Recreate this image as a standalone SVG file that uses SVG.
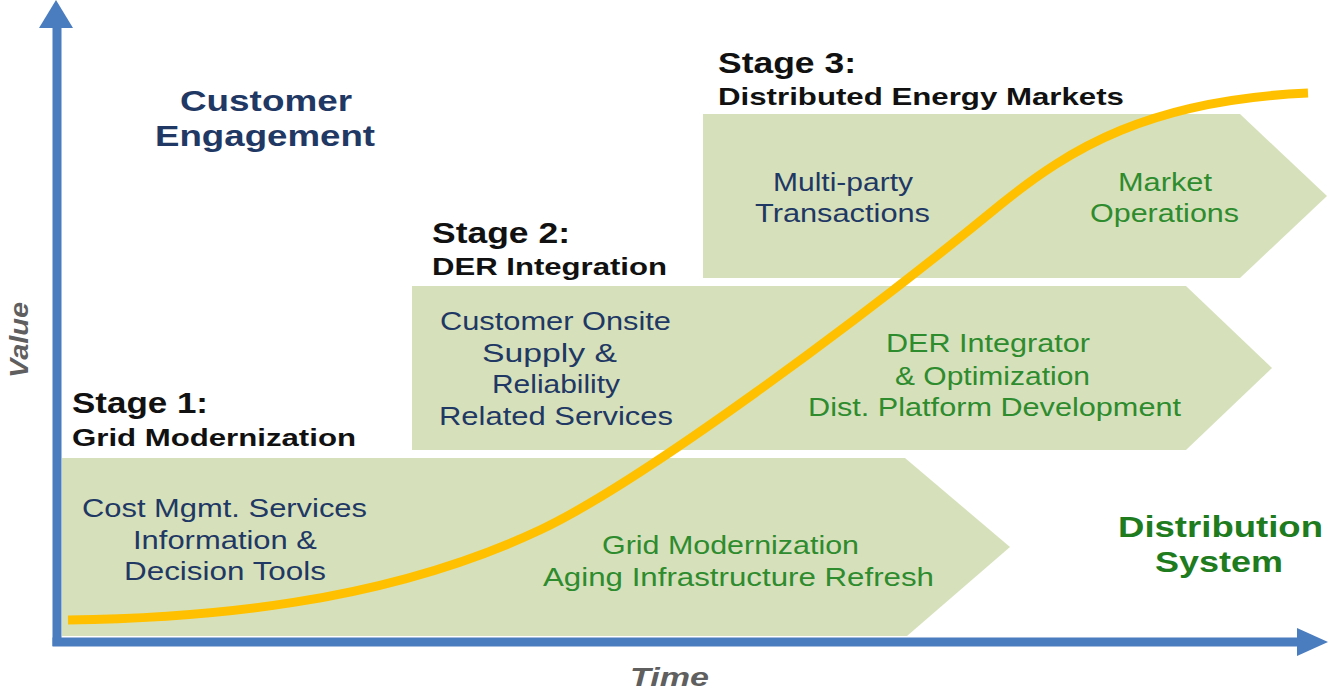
<svg xmlns="http://www.w3.org/2000/svg" width="1329" height="691" viewBox="0 0 1329 691">
  <style>
    .chev { fill: #d6e1bb; }
    .stage { font-family: "Liberation Sans", Arial, sans-serif; font-weight: bold; fill: #111111; }
    .navy { font-family: "Liberation Sans", Arial, sans-serif; fill: #1f3864; font-size: 26px; }
    .green { font-family: "Liberation Sans", Arial, sans-serif; fill: #2e8b2e; font-size: 26px; }
    .big { font-family: "Liberation Sans", Arial, sans-serif; font-weight: bold; font-size: 29px; }
    .axislbl { font-family: "Liberation Sans", Arial, sans-serif; font-weight: bold; font-style: italic; fill: #5f5f5f; font-size: 26px; }
    .axis { stroke: #4a7cc0; stroke-width: 9; fill: none; }
    .head { fill: #4a7cc0; }
    .curve { stroke: #ffc000; stroke-width: 9; fill: none; stroke-linecap: butt; }
  </style>
  <rect width="1329" height="691" fill="#ffffff"/>

  <g id="stage2">
    <polygon class="chev" points="412,286 1186,286 1272,368 1186,450 412,450"/>
    <text class="stage" font-size="29" x="432" y="243" textLength="138" lengthAdjust="spacingAndGlyphs">Stage 2:</text>
    <text class="stage" font-size="24" x="432" y="275" textLength="235" lengthAdjust="spacingAndGlyphs">DER Integration</text>
    <text class="navy" x="440" y="330" textLength="231" lengthAdjust="spacingAndGlyphs">Customer Onsite</text>
    <text class="navy" x="482" y="362" textLength="135" lengthAdjust="spacingAndGlyphs">Supply  &amp;</text>
    <text class="navy" x="492" y="393" textLength="128" lengthAdjust="spacingAndGlyphs">Reliability</text>
    <text class="navy" x="439" y="425" textLength="234" lengthAdjust="spacingAndGlyphs">Related Services</text>
    <text class="green" x="886" y="352" textLength="204" lengthAdjust="spacingAndGlyphs">DER Integrator</text>
    <text class="green" x="895" y="385" textLength="195" lengthAdjust="spacingAndGlyphs">&amp; Optimization</text>
    <text class="green" x="808" y="416" textLength="373" lengthAdjust="spacingAndGlyphs">Dist. Platform Development</text>
  </g>

  <g id="stage1">
    <polygon class="chev" points="62,458 905,458 1010,547 907,636 62,636"/>
    <text class="stage" font-size="29" x="72" y="413" textLength="136" lengthAdjust="spacingAndGlyphs">Stage 1:</text>
    <text class="stage" font-size="24" x="72" y="446" textLength="284" lengthAdjust="spacingAndGlyphs">Grid Modernization</text>
    <text class="navy" x="82" y="517" textLength="285" lengthAdjust="spacingAndGlyphs">Cost Mgmt.  Services</text>
    <text class="navy" x="133" y="549" textLength="184" lengthAdjust="spacingAndGlyphs">Information  &amp;</text>
    <text class="navy" x="124" y="580" textLength="202" lengthAdjust="spacingAndGlyphs">Decision Tools</text>
    <text class="green" x="602" y="554" textLength="257" lengthAdjust="spacingAndGlyphs">Grid Modernization</text>
    <text class="green" x="543" y="586" textLength="391" lengthAdjust="spacingAndGlyphs">Aging Infrastructure Refresh</text>
  </g>

  <g id="stage3">
    <polygon class="chev" points="703,114 1240,114 1327,196 1240,278 703,278"/>
    <text class="stage" font-size="29" x="718" y="73" textLength="138" lengthAdjust="spacingAndGlyphs">Stage 3:</text>
    <text class="stage" font-size="24" x="718" y="105" textLength="406" lengthAdjust="spacingAndGlyphs">Distributed Energy  Markets</text>
    <text class="navy" x="773" y="191" textLength="140" lengthAdjust="spacingAndGlyphs">Multi-party</text>
    <text class="navy" x="755" y="222" textLength="175" lengthAdjust="spacingAndGlyphs">Transactions</text>
    <text class="green" x="1118" y="191" textLength="94" lengthAdjust="spacingAndGlyphs">Market</text>
    <text class="green" x="1090" y="222" textLength="149" lengthAdjust="spacingAndGlyphs">Operations</text>
  </g>

  <g id="connectors">
    <path class="curve" d="M68,620 C200,618 380,605 540,530 C640,483 860,320 1000,205 C1070,148 1150,100 1308,93"/>
  </g>

  <g id="axes">
    <line class="axis" x1="57" y1="26" x2="57" y2="646"/>
    <polygon class="head" points="56,0 39,28 73,28"/>
    <line class="axis" x1="52.5" y1="642" x2="1298" y2="642"/>
    <polygon class="head" points="1328,642 1297,628 1297,656"/>
  </g>

  <g id="customer-engagement">
    <text class="big" fill="#1f3864" x="180" y="111" textLength="172" lengthAdjust="spacingAndGlyphs">Customer</text>
    <text class="big" fill="#1f3864" x="155" y="146" textLength="220" lengthAdjust="spacingAndGlyphs">Engagement</text>
  </g>

  <g id="distribution-system">
    <text class="big" fill="#1e7b1e" x="1118" y="537" textLength="205" lengthAdjust="spacingAndGlyphs">Distribution</text>
    <text class="big" fill="#1e7b1e" x="1155" y="572" textLength="128" lengthAdjust="spacingAndGlyphs">System</text>
  </g>

  <g id="axis-labels">
    <text class="axislbl" transform="translate(28,378) rotate(-90)" textLength="76" lengthAdjust="spacingAndGlyphs">Value</text>
    <text class="axislbl" x="630" y="686" textLength="79" lengthAdjust="spacingAndGlyphs">Time</text>
  </g>
</svg>
